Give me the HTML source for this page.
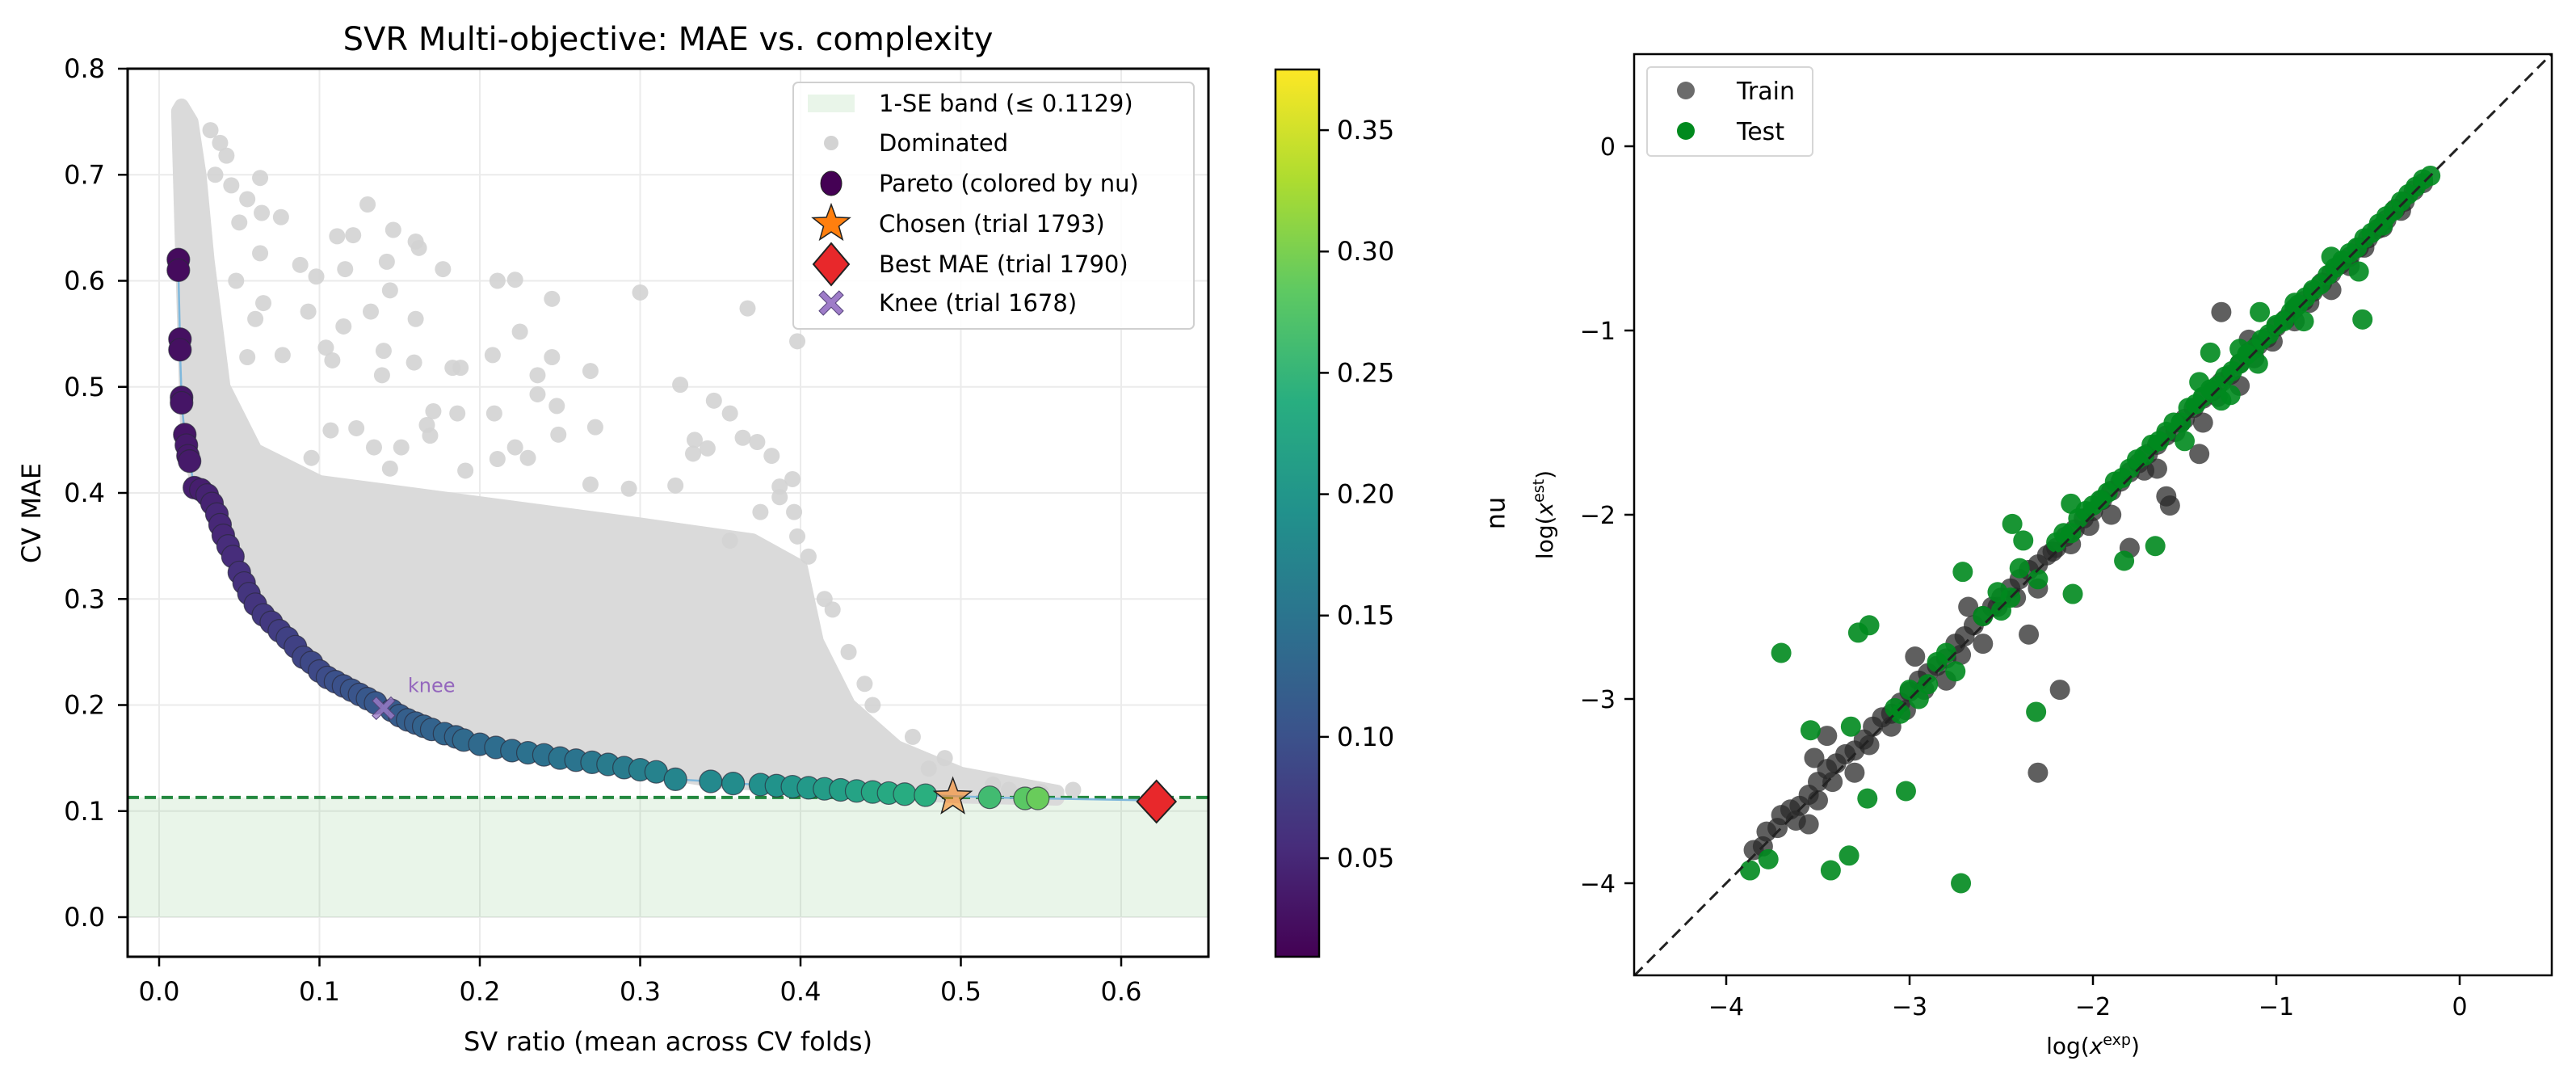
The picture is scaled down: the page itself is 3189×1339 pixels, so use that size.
<!DOCTYPE html>
<html><head><meta charset="utf-8">
<style>
html,body{margin:0;padding:0;background:#fff;}
svg{display:block;font-family:"DejaVu Sans","Liberation Sans",sans-serif;}
</style></head>
<body>
<svg id="fig" width="3189" height="1339" viewBox="0 0 3189 1339" xmlns="http://www.w3.org/2000/svg">
<defs>
<linearGradient id="vir" x1="0" y1="1" x2="0" y2="0">
<stop offset="0" stop-color="#440154"/><stop offset="0.125" stop-color="#472d7b"/><stop offset="0.25" stop-color="#3b528b"/><stop offset="0.375" stop-color="#2c728e"/><stop offset="0.5" stop-color="#21918c"/><stop offset="0.625" stop-color="#28ae80"/><stop offset="0.75" stop-color="#5ec962"/><stop offset="0.875" stop-color="#addc30"/><stop offset="1" stop-color="#fde725"/>
</linearGradient>
<clipPath id="clipL"><rect x="158" y="85" width="1338" height="1099"/></clipPath>
<clipPath id="clipR"><rect x="2023" y="67" width="1136" height="1140"/></clipPath>
</defs>
<g id="left"></g>
<g id="cbar"></g>
<g id="right"></g>
</svg>
<script>
// ---------- Left chart data ----------
const xTicksL = [0.0,0.1,0.2,0.3,0.4,0.5,0.6];
const xTickLabelsL = ["0.0","0.1","0.2","0.3","0.4","0.5","0.6"];
const yTicksL = [0.0,0.1,0.2,0.3,0.4,0.5,0.6,0.7,0.8];
const yTickLabelsL = ["0.0","0.1","0.2","0.3","0.4","0.5","0.6","0.7","0.8"];
const seBand = 0.1129;
const cloudX = [0.012,0.014,0.02,0.025,0.03,0.04,0.06,0.1,0.2,0.3,0.37,0.4,0.41,0.43,0.46,0.5,0.56,0.56,0.5,0.45,0.4,0.35,0.3,0.25,0.2,0.15,0.1,0.06,0.04,0.025,0.018];
const cloudY = [0.76,0.765,0.75,0.7,0.62,0.5,0.44,0.41,0.39,0.37,0.355,0.33,0.26,0.2,0.16,0.135,0.118,0.112,0.114,0.118,0.124,0.128,0.14,0.151,0.165,0.192,0.234,0.297,0.365,0.405,0.44];
const domX = [0.063,0.055,0.13,0.064,0.076,0.111,0.121,0.146,0.162,0.16,0.063,0.088,0.098,0.116,0.142,0.177,0.211,0.222,0.245,0.3,0.367,0.398,0.065,0.06,0.093,0.132,0.144,0.16,0.115,0.104,0.108,0.077,0.055,0.14,0.159,0.139,0.208,0.225,0.245,0.183,0.188,0.236,0.269,0.325,0.346,0.356,0.236,0.248,0.171,0.186,0.209,0.167,0.272,0.107,0.123,0.249,0.334,0.364,0.373,0.382,0.333,0.342,0.222,0.23,0.151,0.144,0.134,0.169,0.095,0.211,0.191,0.269,0.293,0.322,0.395,0.387,0.396,0.387,0.375,0.398,0.356,0.032,0.042,0.045,0.05,0.038,0.035,0.048,0.42,0.415,0.44,0.47,0.49,0.52,0.53,0.55,0.57,0.445,0.48,0.405,0.43];
const domY = [0.697,0.677,0.672,0.664,0.66,0.642,0.643,0.648,0.631,0.637,0.626,0.615,0.604,0.611,0.618,0.611,0.6,0.601,0.583,0.589,0.574,0.543,0.579,0.564,0.571,0.571,0.591,0.564,0.557,0.537,0.525,0.53,0.528,0.534,0.523,0.511,0.53,0.552,0.528,0.518,0.518,0.511,0.515,0.502,0.487,0.475,0.493,0.482,0.477,0.475,0.475,0.464,0.462,0.459,0.461,0.455,0.45,0.452,0.448,0.435,0.437,0.442,0.443,0.433,0.443,0.423,0.443,0.454,0.433,0.432,0.421,0.408,0.404,0.407,0.413,0.406,0.382,0.396,0.382,0.359,0.355,0.742,0.718,0.69,0.655,0.73,0.7,0.6,0.29,0.3,0.22,0.17,0.15,0.125,0.12,0.118,0.12,0.2,0.14,0.34,0.25];
const parX = [0.012,0.012,0.013,0.013,0.014,0.014,0.016,0.017,0.018,0.019,0.022,0.026,0.03,0.033,0.036,0.038,0.04,0.043,0.046,0.05,0.053,0.056,0.06,0.065,0.07,0.075,0.08,0.085,0.09,0.095,0.1,0.105,0.11,0.115,0.12,0.125,0.13,0.135,0.145,0.15,0.155,0.16,0.165,0.17,0.178,0.185,0.19,0.2,0.21,0.22,0.23,0.24,0.25,0.26,0.27,0.28,0.29,0.3,0.31,0.322,0.344,0.358,0.375,0.385,0.395,0.405,0.415,0.425,0.435,0.445,0.455,0.465,0.478,0.518,0.54,0.548,0.622];
const parY = [0.62,0.61,0.545,0.535,0.49,0.485,0.455,0.445,0.435,0.43,0.405,0.403,0.398,0.39,0.38,0.37,0.36,0.35,0.34,0.325,0.315,0.305,0.295,0.285,0.278,0.27,0.263,0.255,0.245,0.24,0.232,0.226,0.222,0.218,0.214,0.21,0.206,0.202,0.195,0.19,0.186,0.183,0.18,0.177,0.173,0.17,0.167,0.163,0.16,0.157,0.155,0.153,0.15,0.148,0.146,0.144,0.141,0.139,0.137,0.13,0.128,0.126,0.125,0.124,0.123,0.122,0.121,0.12,0.119,0.118,0.117,0.116,0.115,0.113,0.112,0.112,0.11];
const parNu = [0.02,0.02,0.025,0.025,0.03,0.03,0.03,0.035,0.035,0.035,0.04,0.04,0.045,0.045,0.05,0.05,0.05,0.055,0.055,0.06,0.06,0.065,0.065,0.07,0.07,0.075,0.08,0.08,0.085,0.09,0.09,0.095,0.1,0.1,0.105,0.105,0.11,0.11,0.115,0.115,0.12,0.12,0.125,0.125,0.13,0.13,0.135,0.135,0.14,0.14,0.145,0.145,0.15,0.15,0.155,0.16,0.16,0.165,0.17,0.175,0.18,0.185,0.19,0.195,0.2,0.205,0.21,0.215,0.22,0.225,0.23,0.235,0.24,0.26,0.28,0.29,0.2];
const chosen = [0.495,0.113];
const best = [0.622,0.109];
const knee = [0.14,0.197];
const legendL = ["1-SE band (\u2264 0.1129)","Dominated","Pareto (colored by nu)","Chosen (trial 1793)","Best MAE (trial 1790)","Knee (trial 1678)"];
// ---------- Colorbar data ----------
const cbTicks = [0.05,0.10,0.15,0.20,0.25,0.30,0.35];
const cbTickLabels = ["0.05","0.10","0.15","0.20","0.25","0.30","0.35"];
const nuMin = 0.0094, nuMax = 0.375;
// ---------- Right chart data ----------
const xTicksR = [-4,-3,-2,-1,0];
const yTicksR = [-4,-3,-2,-1,0];
const tickLabelsR = ["\u22124","\u22123","\u22122","\u22121","0"];
const trainX = [-3.85,-3.78,-3.72,-3.65,-3.6,-3.55,-3.5,-3.45,-3.4,-3.35,-3.3,-3.25,-3.2,-3.15,-3.1,-3.05,-3.0,-2.95,-2.9,-2.85,-2.8,-2.75,-2.7,-2.65,-2.6,-2.55,-2.5,-2.45,-2.4,-2.35,-2.3,-2.25,-2.2,-2.15,-2.1,-2.05,-2.0,-1.95,-1.9,-1.85,-1.8,-1.75,-1.7,-1.65,-1.6,-1.55,-1.5,-1.45,-1.4,-1.35,-1.3,-1.25,-1.2,-1.15,-1.1,-1.05,-1.0,-0.95,-0.9,-0.85,-0.8,-0.75,-0.7,-0.65,-0.6,-0.55,-0.5,-0.45,-0.4,-0.35,-0.3,-0.25,-0.2,-3.3,-3.1,-2.6,-2.3,-1.9,-1.4,-1.2,-0.9,-0.6,-2.8,-3.5,-1.65,-1.15,-0.7,-1.3,-2.68,-2.97,-2.18,-2.3,-3.45,-3.52,-3.7,-3.8,-3.55,-1.8,-1.6,-1.58,-1.42,-2.35,-3.42,-3.22,-2.92,-2.72,-2.52,-2.42,-2.22,-2.02,-1.72,-1.52,-1.32,-1.12,-0.82,-0.52,-0.32,-3.62,-3.02,-2.12,-1.02,-0.42];
const trainY = [-3.82,-3.72,-3.7,-3.6,-3.58,-3.52,-3.45,-3.38,-3.35,-3.3,-3.28,-3.22,-3.15,-3.1,-3.08,-3.02,-2.96,-2.9,-2.86,-2.82,-2.78,-2.7,-2.66,-2.6,-2.55,-2.5,-2.45,-2.4,-2.35,-2.3,-2.27,-2.22,-2.18,-2.12,-2.08,-2.02,-1.98,-1.92,-1.87,-1.82,-1.77,-1.72,-1.67,-1.62,-1.57,-1.55,-1.48,-1.42,-1.37,-1.33,-1.28,-1.24,-1.18,-1.12,-1.08,-1.04,-0.98,-0.94,-0.88,-0.84,-0.79,-0.74,-0.69,-0.64,-0.6,-0.55,-0.5,-0.45,-0.4,-0.34,-0.3,-0.24,-0.2,-3.4,-3.15,-2.7,-2.4,-2.0,-1.5,-1.3,-0.95,-0.65,-2.9,-3.55,-1.75,-1.05,-0.78,-0.9,-2.5,-2.77,-2.95,-3.4,-3.2,-3.32,-3.63,-3.8,-3.68,-2.18,-1.9,-1.95,-1.67,-2.65,-3.45,-3.25,-2.95,-2.76,-2.5,-2.45,-2.2,-2.06,-1.76,-1.5,-1.36,-1.15,-0.85,-0.55,-0.35,-3.66,-3.06,-2.16,-1.06,-0.44];
const testX = [-3.7,-3.28,-3.22,-3.54,-3.32,-3.23,-3.02,-3.87,-3.77,-3.43,-3.33,-2.72,-2.31,-2.71,-2.44,-2.38,-2.52,-2.4,-2.12,-1.83,-1.66,-2.11,-1.09,-1.36,-0.53,-0.42,-3.08,-3.05,-3.0,-2.95,-2.9,-2.85,-2.8,-2.75,-2.6,-2.5,-2.45,-2.3,-2.2,-2.16,-2.12,-2.08,-2.04,-2.0,-1.96,-1.92,-1.88,-1.84,-1.8,-1.76,-1.72,-1.68,-1.64,-1.6,-1.56,-1.52,-1.48,-1.44,-1.4,-1.36,-1.32,-1.28,-1.24,-1.2,-1.16,-1.12,-1.08,-1.04,-1.0,-0.96,-0.92,-0.88,-0.84,-0.8,-0.76,-0.72,-0.68,-0.64,-0.6,-0.56,-0.52,-0.48,-0.44,-0.4,-0.36,-0.32,-0.28,-0.24,-0.2,-0.16,-1.3,-1.2,-1.1,-0.9,-0.7,-0.55,-1.5,-1.25,-1.42,-0.85];
const testY = [-2.75,-2.64,-2.6,-3.17,-3.15,-3.54,-3.5,-3.93,-3.87,-3.93,-3.85,-4.0,-3.07,-2.31,-2.05,-2.14,-2.42,-2.29,-1.94,-2.25,-2.17,-2.43,-0.9,-1.12,-0.94,-0.43,-3.05,-3.08,-2.95,-3.0,-2.92,-2.8,-2.75,-2.85,-2.55,-2.52,-2.45,-2.35,-2.15,-2.1,-2.1,-2.02,-1.98,-1.95,-1.92,-1.88,-1.82,-1.8,-1.75,-1.7,-1.68,-1.62,-1.6,-1.55,-1.5,-1.5,-1.42,-1.4,-1.36,-1.32,-1.3,-1.25,-1.22,-1.18,-1.13,-1.1,-1.05,-1.02,-0.97,-0.95,-0.9,-0.86,-0.82,-0.78,-0.75,-0.7,-0.66,-0.62,-0.58,-0.55,-0.5,-0.47,-0.42,-0.38,-0.35,-0.3,-0.26,-0.22,-0.18,-0.16,-1.38,-1.1,-1.18,-0.85,-0.6,-0.68,-1.6,-1.35,-1.28,-0.95];

const NS = "http://www.w3.org/2000/svg";
function mk(parent, tag, attrs, text){
  const e = document.createElementNS(NS, tag);
  for (const k in attrs) e.setAttribute(k, attrs[k]);
  if (text !== undefined) e.textContent = text;
  parent.appendChild(e);
  return e;
}
const vir = ["#440154","#472d7b","#3b528b","#2c728e","#21918c","#28ae80","#5ec962","#addc30","#fde725"];
function hex(h){return [parseInt(h.substr(1,2),16),parseInt(h.substr(3,2),16),parseInt(h.substr(5,2),16)];}
function viridis(t){
  t=Math.max(0,Math.min(1,t)); const s=t*8; const i=Math.min(7,Math.floor(s)); const f=s-i;
  const a=hex(vir[i]), b=hex(vir[i+1]);
  return "rgb("+a.map((v,k)=>Math.round(v+(b[k]-v)*f)).join(",")+")";
}
const XL = v => 197 + v*1985;
const YL = v => 1135 - v*1312.5;
const XR = v => 3045 + v*227;
const YR = v => 181 - v*228;
const YC = v => 1184 - (v-nuMin)/(nuMax-nuMin)*1098;

// ---------- Left chart ----------
const L = document.getElementById('left');
mk(L,'rect',{x:158,y:85,width:1338,height:1099,fill:'#fff'});
const gridL = mk(L,'g',{});


xTicksL.forEach(v=>mk(gridL,'line',{x1:XL(v),x2:XL(v),y1:85,y2:1184,stroke:'#ebebeb','stroke-width':2}));
yTicksL.forEach(v=>mk(gridL,'line',{x1:158,x2:1496,y1:YL(v),y2:YL(v),stroke:'#ebebeb','stroke-width':2}));
const plotL = mk(L,'g',{'clip-path':'url(#clipL)'});
const band = mk(plotL,'rect',{x:158,y:YL(seBand),width:1338,height:YL(0)-YL(seBand),fill:'#2ca02c','fill-opacity':0.1});


const cloud = mk(plotL,'polygon',{points:cloudX.map((v,i)=>XL(v)+','+YL(cloudY[i])).join(' '),fill:'#dadada',stroke:'#dadada','stroke-width':18,'stroke-linejoin':'round'});


const domG = mk(plotL,'g',{});


domX.forEach((v,i)=>{
  const c = mk(domG,'circle',{cx:XL(v),cy:YL(domY[i]),r:10,fill:'#d3d3d3','fill-opacity':0.9});
  
  
});
const seLine = mk(plotL,'line',{x1:158,x2:1496,y1:YL(seBand),y2:YL(seBand),stroke:'#23883f','stroke-width':4,'stroke-dasharray':'14,7'});


const pLine = mk(plotL,'polyline',{points:parX.map((v,i)=>XL(v)+','+YL(parY[i])).join(' '),fill:'none',stroke:'#7fb8dc','stroke-width':2.5});


const parG = mk(plotL,'g',{});


parX.forEach((v,i)=>{
  const c = mk(parG,'circle',{cx:XL(v),cy:YL(parY[i]),r:14,fill:viridis((parNu[i]-nuMin)/(nuMax-nuMin)),stroke:'#2a2a3a','stroke-width':1.2,'stroke-opacity':0.7});
  
  
});
function starPts(cx,cy,R,r){let p=[];for(let k=0;k<10;k++){const a=-Math.PI/2+k*Math.PI/5;const rr=k%2?r:R;p.push((cx+rr*Math.cos(a)).toFixed(1)+','+(cy+rr*Math.sin(a)).toFixed(1));}return p.join(' ');}
function xPts(cx,cy,s){const a=s*0.35,b=s;return [[-b,-b+a],[-b+a,-b],[0,-a],[b-a,-b],[b,-b+a],[a,0],[b,b-a],[b-a,b],[0,a],[-b+a,b],[-b,b-a],[-a,0]].map(p=>(cx+p[0])+','+(cy+p[1])).join(' ');}
const st = mk(plotL,'polygon',{points:starPts(XL(chosen[0]),YL(chosen[1]),24,10),fill:'#ff7f0e','fill-opacity':0.55,stroke:'#222','stroke-width':1.5});


const dm = mk(plotL,'polygon',{points:[[0,-26],[24,0],[0,26],[-24,0]].map(p=>(XL(best[0])+p[0])+','+(YL(best[1])+p[1])).join(' '),fill:'#e8282b',stroke:'#222','stroke-width':2});


const kn = mk(plotL,'polygon',{points:xPts(XL(knee[0]),YL(knee[1]),14),fill:'#9e7cc8','fill-opacity':0.8,stroke:'#55447a','stroke-width':1});


const kt = mk(plotL,'text',{x:XL(knee[0])+30,y:YL(knee[1])-20,'font-size':24,fill:'#9467bd'},'knee');


mk(L,'rect',{x:158,y:85,width:1338,height:1099,fill:'none',stroke:'#000','stroke-width':3});
xTicksL.forEach((v,i)=>{
  mk(L,'line',{x1:XL(v),x2:XL(v),y1:1184,y2:1196,stroke:'#000','stroke-width':2.5});
  const t = mk(L,'text',{x:XL(v),y:1238,'font-size':32,'text-anchor':'middle'},xTickLabelsL[i]);
  
  
});
yTicksL.forEach((v,i)=>{
  mk(L,'line',{x1:146,x2:158,y1:YL(v),y2:YL(v),stroke:'#000','stroke-width':2.5});
  const t = mk(L,'text',{x:130,y:YL(v)+11,'font-size':32,'text-anchor':'end'},yTickLabelsL[i]);
  
  
});
const ttl = mk(L,'text',{x:827,y:62,'font-size':40,'text-anchor':'middle'},'SVR Multi-objective: MAE vs. complexity');


const xl = mk(L,'text',{x:827,y:1300,'font-size':32,'text-anchor':'middle'},'SV ratio (mean across CV folds)');


const yl = mk(L,'text',{x:0,y:0,'font-size':32,'text-anchor':'middle',transform:'translate(50,635) rotate(-90)'},'CV MAE');


const lg = mk(L,'g',{});


mk(lg,'rect',{x:982,y:102,width:496,height:305,rx:6,fill:'#fff','fill-opacity':0.85,stroke:'#d0d0d0','stroke-width':2});
const lgY = [128,177,227,277,327,375];
legendL.forEach((s,i)=>{
  const t = mk(lg,'text',{x:1088,y:lgY[i]+10,'font-size':29},s);
  
  
});
mk(lg,'rect',{x:1000,y:lgY[0]-11,width:58,height:22,fill:'#2ca02c','fill-opacity':0.1});
mk(lg,'circle',{cx:1029,cy:lgY[1],r:9,fill:'#d3d3d3'});
mk(lg,'ellipse',{cx:1029,cy:lgY[2],rx:13,ry:15,fill:'#440154',stroke:'#222','stroke-width':1});
mk(lg,'polygon',{points:starPts(1029,lgY[3],24,10),fill:'#ff7f0e',stroke:'#222','stroke-width':1.5});
mk(lg,'polygon',{points:[[0,-26],[22,0],[0,26],[-22,0]].map(p=>(1029+p[0])+','+(lgY[4]+p[1])).join(' '),fill:'#e8282b',stroke:'#222','stroke-width':2});
mk(lg,'polygon',{points:xPts(1029,lgY[5],15),fill:'#9e7cc8',stroke:'#55447a','stroke-width':1});

// ---------- Colorbar ----------
const C = document.getElementById('cbar');
mk(C,'rect',{x:1579,y:86,width:54,height:1098,fill:'url(#vir)',stroke:'#000','stroke-width':2.5});
cbTicks.forEach((v,i)=>{
  mk(C,'line',{x1:1633,x2:1645,y1:YC(v),y2:YC(v),stroke:'#000','stroke-width':2.5});
  const t = mk(C,'text',{x:1655,y:YC(v)+11,'font-size':32},cbTickLabels[i]);
  
  
});
const cl = mk(C,'text',{x:0,y:0,'font-size':32,'text-anchor':'middle',transform:'translate(1845,635) rotate(90)'},'nu');



// ---------- Right chart ----------
const R = document.getElementById('right');
mk(R,'rect',{x:2023,y:67,width:1136,height:1140,fill:'#fff'});
const plotR = mk(R,'g',{'clip-path':'url(#clipR)'});
const trG = mk(plotR,'g',{});


trainX.forEach((v,i)=>{
  const c = mk(trG,'circle',{cx:XR(v),cy:YR(trainY[i]),r:12.5,fill:'#2a2a2a','fill-opacity':0.75});
  
  
});
const teG = mk(plotR,'g',{});


testX.forEach((v,i)=>{
  const c = mk(teG,'circle',{cx:XR(v),cy:YR(testY[i]),r:12.5,fill:'#008a1e','fill-opacity':0.9});
  
  
});
const dg = mk(plotR,'line',{x1:XR(-4.5),y1:YR(-4.5),x2:XR(0.5),y2:YR(0.5),stroke:'#222','stroke-width':3,'stroke-dasharray':'14,8'});


mk(R,'rect',{x:2023,y:67,width:1136,height:1140,fill:'none',stroke:'#000','stroke-width':2.5});
xTicksR.forEach((v,i)=>{
  mk(R,'line',{x1:XR(v),x2:XR(v),y1:1207,y2:1219,stroke:'#000','stroke-width':2.5});
  const t = mk(R,'text',{x:XR(v),y:1256,'font-size':30,'text-anchor':'middle'},tickLabelsR[i]);
  
  
});
yTicksR.forEach((v,i)=>{
  mk(R,'line',{x1:2011,x2:2023,y1:YR(v),y2:YR(v),stroke:'#000','stroke-width':2.5});
  const t = mk(R,'text',{x:2000,y:YR(v)+11,'font-size':30,'text-anchor':'end'},tickLabelsR[i]);
  
  
});
const rxl = mk(R,'text',{x:2591,y:1304,'font-size':28,'text-anchor':'middle'});


rxl.innerHTML = 'log(<tspan font-style="italic">x</tspan><tspan dy="-11" font-size="19">exp</tspan><tspan dy="11">)</tspan>';
const ryl = mk(R,'text',{x:0,y:0,'font-size':28,'text-anchor':'middle',transform:'translate(1922,637) rotate(-90)'});


ryl.innerHTML = 'log(<tspan font-style="italic">x</tspan><tspan dy="-11" font-size="19">est</tspan><tspan dy="11">)</tspan>';
const lgR = mk(R,'g',{});


mk(lgR,'rect',{x:2039,y:83,width:205,height:110,rx:5,fill:'#fff','fill-opacity':0.85,stroke:'#d6d6d6','stroke-width':2});
mk(lgR,'circle',{cx:2087,cy:112,r:11,fill:'#3a3a3a','fill-opacity':0.75});
mk(lgR,'circle',{cx:2087,cy:162,r:11,fill:'#008a1e'});
const lt1 = mk(lgR,'text',{x:2150,y:123,'font-size':30},'Train');


const lt2 = mk(lgR,'text',{x:2150,y:173,'font-size':30},'Test');


</script>
</body></html>
